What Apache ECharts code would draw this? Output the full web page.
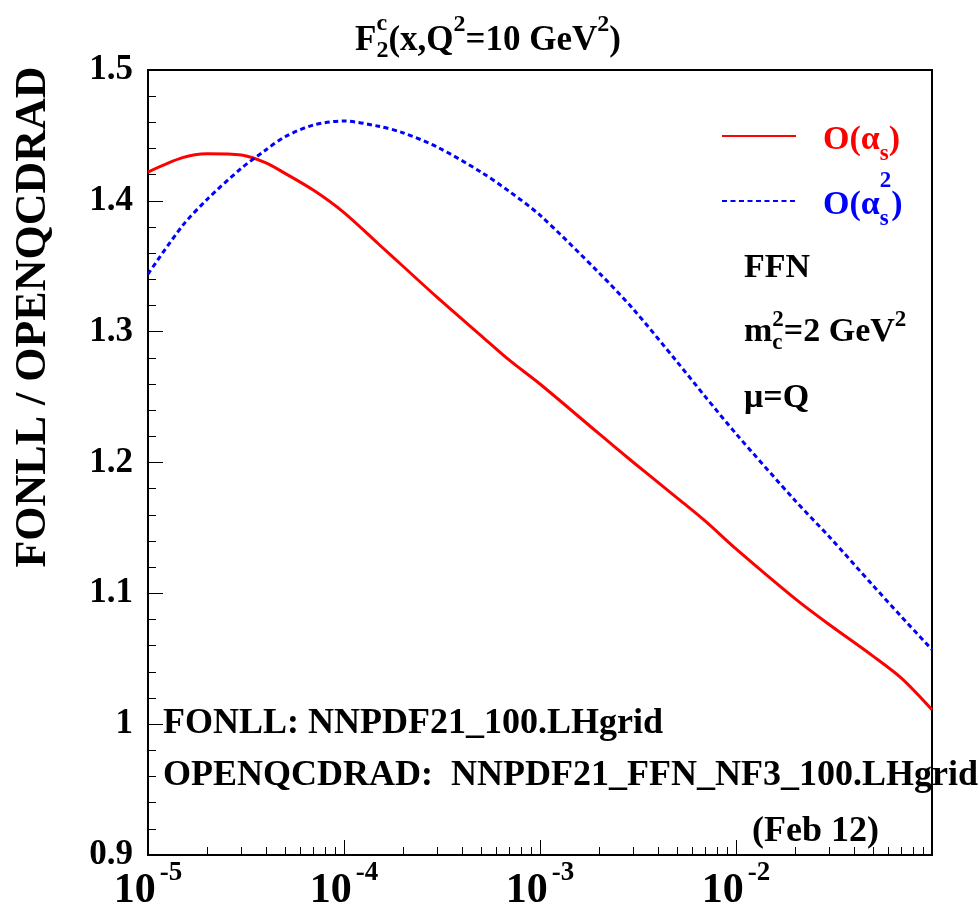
<!DOCTYPE html>
<html>
<head>
<meta charset="utf-8">
<script src="https://cdn.jsdelivr.net/npm/echarts@6/dist/echarts.min.js"></script>
<style>
  html, body { margin: 0; padding: 0; background: #fff; }
  #chart { width: 980px; height: 908px; }
</style>
</head>
<body>
<div id="chart"></div>
<script>
// x = Bjorken x (log scale), ratio FONLL / OPENQCDRAD at Q^2 = 10 GeV^2
const xValues = [1e-5, 1.5e-5, 2e-5, 3e-5, 4e-5, 5e-5, 7e-5, 1e-4, 1.5e-4, 2e-4, 3e-4, 5e-4, 7e-4,
                 1e-3, 2e-3, 3e-3, 5e-3, 7e-3, 1e-2, 2e-2, 3e-2, 5e-2, 7e-2, 1e-1];
// O(alpha_s) result
const ratioNLO = [1.422, 1.433, 1.436, 1.435, 1.429, 1.421, 1.408, 1.391, 1.367, 1.350, 1.326, 1.297, 1.278,
                  1.260, 1.222, 1.200, 1.173, 1.155, 1.134, 1.096, 1.076, 1.052, 1.035, 1.011];
// O(alpha_s^2) result
const ratioNNLO = [1.344, 1.381, 1.401, 1.425, 1.439, 1.449, 1.458, 1.461, 1.457, 1.452, 1.441, 1.422, 1.407,
                   1.389, 1.345, 1.317, 1.277, 1.250, 1.222, 1.171, 1.143, 1.106, 1.082, 1.057];

const decadeTicks = [1e-5, 1e-4, 1e-3, 1e-2, 1e-1];
const decadeLabels = [1e-5, 1e-4, 1e-3, 1e-2];
const minorMultipliers = [2, 3, 4, 5, 6, 7, 8, 9];
const yTickLabels = ['0.9', '1', '1.1', '1.2', '1.3', '1.4', '1.5'];

const seriesNames = ['O(αs)', 'O(αs²)'];
const RED = '#ff0000';
const BLUE = '#0000ff';
const FONT = '"Liberation Serif", "Times New Roman", serif';

const minorTicks = [];
decadeTicks.slice(0, -1).forEach(d => minorMultipliers.forEach(m => minorTicks.push(m * d)));

// --- text helpers for labels with sub/superscripts ---
const measureCtx = document.createElement('canvas').getContext('2d');
function textWidth(t, size) {
  measureCtx.font = `bold ${size}px ${FONT}`;
  return measureCtx.measureText(t).width;
}
// pieces: {t, size, rise, over}; 'over' stacks the piece on the previous one
function textRun(x, baseline, color, pieces, align) {
  const placed = [];
  let cursor = 0, lastX = 0, lastW = 0;
  pieces.forEach(p => {
    const w = textWidth(p.t, p.size);
    let px;
    if (p.over) {
      px = lastX;
      lastW = Math.max(lastW, w);
      cursor = lastX + lastW;
    } else {
      px = cursor;
      lastX = cursor;
      lastW = w;
      cursor += w;
    }
    placed.push({ p, px });
  });
  const start = align === 'center' ? x - cursor / 2 : x;
  return placed.map(({ p, px }) => ({
    type: 'text',
    x: start + px,
    y: baseline - (p.rise || 0) - 0.3 * p.size,
    silent: true,
    style: {
      text: p.t, fill: color, fontSize: p.size, fontWeight: 'bold', fontFamily: FONT,
      align: 'left', verticalAlign: 'middle'
    }
  }));
}

const graphics = [].concat(
  // title
  textRun(488, 51, '#000', [
    { t: 'F', size: 35 },
    { t: '2', size: 24, rise: -7 },
    { t: 'c', size: 24, rise: 20, over: true },
    { t: '(x,Q', size: 35 },
    { t: '2', size: 24, rise: 19 },
    { t: '=10 GeV', size: 35 },
    { t: '2', size: 24, rise: 19 },
    { t: ')', size: 35 }
  ], 'center'),
  // legend labels
  textRun(823, 150, RED, [
    { t: 'O(α', size: 34 },
    { t: 's', size: 23, rise: -11 },
    { t: ')', size: 34 }
  ]),
  textRun(823, 215, BLUE, [
    { t: 'O(α', size: 34 },
    { t: 's', size: 23, rise: -11 },
    { t: '2', size: 23, rise: 27, over: true },
    { t: ')', size: 34 }
  ]),
  // settings
  textRun(744, 278, '#000', [{ t: 'FFN', size: 34 }]),
  textRun(744, 342, '#000', [
    { t: 'm', size: 34 },
    { t: 'c', size: 23, rise: -8 },
    { t: '2', size: 23, rise: 15, over: true },
    { t: '=2 GeV', size: 34 },
    { t: '2', size: 23, rise: 15 }
  ]),
  textRun(744, 408, '#000', [{ t: 'μ=Q', size: 34 }]),
  // PDF sets
  textRun(163, 735, '#000', [{ t: 'FONLL: NNPDF21_100.LHgrid', size: 36 }]),
  textRun(163, 787, '#000', [{ t: 'OPENQCDRAD:  NNPDF21_FFN_NF3_100.LHgrid', size: 36 }]),
  textRun(752, 843, '#000', [{ t: '(Feb 12)', size: 36 }]),
  // y-axis title
  [{
    type: 'text', x: 34, y: 317, rotation: Math.PI / 2, silent: true,
    style: {
      text: 'FONLL / OPENQCDRAD', fill: '#000', fontSize: 44, fontWeight: 'bold', fontFamily: FONT,
      align: 'center', verticalAlign: 'middle'
    }
  }]
);

const chart = echarts.init(document.getElementById('chart'), null, { renderer: 'canvas' });

const xAxisCommon = {
  type: 'log', logBase: 10, min: 1e-5, max: 1e-1, position: 'bottom',
  splitLine: { show: false },
  axisLine: { show: true, onZero: false, lineStyle: { color: '#000', width: 2 } }
};

const legendCommon = {
  left: 721, padding: 0, itemWidth: 74, itemHeight: 14,
  formatter: () => '', textStyle: { fontSize: 10 }, selectedMode: false,
  itemStyle: { color: 'rgba(0,0,0,0)', borderColor: 'rgba(0,0,0,0)', borderWidth: 0, opacity: 0 }
};

chart.setOption({
  animation: false,
  backgroundColor: '#fff',
  grid: {
    left: 148, right: 48, top: 70, bottom: 53,
    outerBoundsMode: 'none', containLabel: false,
    show: true, borderColor: '#000', borderWidth: 2, backgroundColor: 'transparent'
  },
  legend: [
    Object.assign({ data: [seriesNames[0]], top: 129 }, legendCommon),
    Object.assign({ data: [seriesNames[1]], top: 194 }, legendCommon)
  ],
  xAxis: [
    Object.assign({}, xAxisCommon, {
      axisTick: { show: true, inside: true, length: 15, customValues: decadeTicks, lineStyle: { color: '#000', width: 1 } },
      axisLabel: {
        show: true, margin: 5,
        customValues: decadeLabels,
        formatter: v => `{b|10}{e|${Math.round(Math.log10(v))}}`,
        rich: {
          b: { fontSize: 42, fontWeight: 'bold', fontFamily: FONT, color: '#000', lineHeight: 52, verticalAlign: 'bottom' },
          e: { fontSize: 27, fontWeight: 'bold', fontFamily: FONT, color: '#000', lineHeight: 1, verticalAlign: 'top', padding: [0, 0, 0, 4] }
        }
      }
    }),
    Object.assign({}, xAxisCommon, {
      axisTick: { show: true, inside: true, length: 8, customValues: minorTicks, lineStyle: { color: '#000', width: 1 } },
      axisLabel: { show: false }
    })
  ],
  yAxis: {
    type: 'value', min: 0.9, max: 1.5, interval: 0.1,
    splitLine: { show: false },
    axisLine: { show: true, lineStyle: { color: '#000', width: 2 } },
    axisTick: { show: true, inside: true, length: 15, lineStyle: { color: '#000', width: 1 } },
    minorTick: { show: true, splitNumber: 5, length: 8, lineStyle: { color: '#000', width: 1 } },
    axisLabel: {
      margin: 15, color: '#000', fontSize: 35, fontWeight: 'bold', fontFamily: FONT,
      formatter: v => yTickLabels[Math.round((v - 0.9) * 10)]
    }
  },
  series: [
    {
      name: seriesNames[0], type: 'line', xAxisIndex: 0,
      data: xValues.map((x, i) => [x, ratioNLO[i]]),
      symbol: 'none', smooth: 0.3,
      itemStyle: { color: RED },
      lineStyle: { color: RED, width: 3 }
    },
    {
      name: seriesNames[1], type: 'line', xAxisIndex: 0,
      data: xValues.map((x, i) => [x, ratioNNLO[i]]),
      symbol: 'none', smooth: 0.3,
      itemStyle: { color: BLUE },
      lineStyle: { color: BLUE, width: 3, type: [5, 3.5] }
    }
  ],
  graphic: graphics
});
</script>
</body>
</html>
